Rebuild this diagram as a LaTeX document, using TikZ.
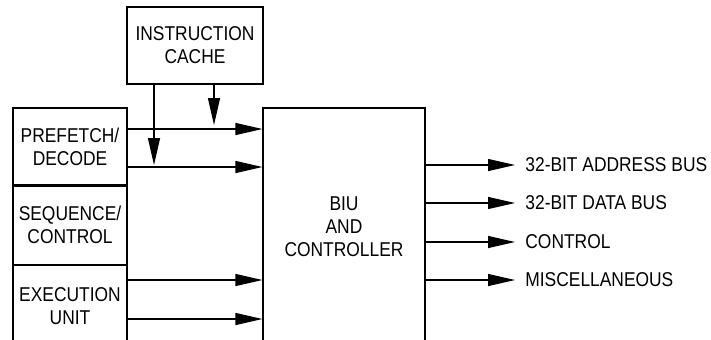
\documentclass[tikz,border=0pt]{standalone}
\usepackage{fontspec}
\setmainfont{Liberation Sans}[FakeStretch=0.87]
\usetikzlibrary{arrows.meta,positioning}

\begin{document}
\begin{tikzpicture}[
    x=0.5pt, y=-0.5pt,
    blk/.style={draw, line width=0.6pt, inner sep=0pt, align=center, font=\fontsize{10}{11.5}\selectfont},
    arrow/.style={-{Triangle[length=13.5pt, width=6pt]}, line width=0.6pt},
    label/.style={anchor=west, inner sep=0pt, font=\fontsize{10}{11.5}\selectfont},
]
\clip (0,0) rectangle (711,339);

% ── Blocks ──
\node[blk, minimum width=68pt, minimum height=38.5pt] (cache) at (195,45.5) {INSTRUCTION\\CACHE};
\node[blk, minimum width=57pt, minimum height=38.5pt] (pre) at (70,146.5) {PREFETCH/\\DECODE};
\node[blk, minimum width=57pt, minimum height=39pt, below=0pt of pre] (seq) {SEQUENCE/\\CONTROL};
\node[blk, minimum width=57pt, minimum height=41pt, below=0pt of seq] (exec) {EXECUTION\\UNIT};
\node[blk, minimum width=81pt, minimum height=118.5pt] (biu) at (344,226.5) {BIU\\AND\\CONTROLLER};

% ── Outputs ──
\node[label] (addr) at (525,165) {32-BIT ADDRESS BUS};
\node[label] (data) at (525,203) {32-BIT DATA BUS};
\node[label] (ctrl) at (525,242) {CONTROL};
\node[label] (misc) at (525,280) {MISCELLANEOUS};

% ── Arrow ends ──
\coordinate (c1) at (214,125);
\coordinate (c2) at (154,165);

% ── Arrows ──
\draw[arrow] (pre.east |- 0,129) -- (biu.west |- 0,129);
\draw[arrow] (pre.east |- 0,167) -- (biu.west |- 0,167);
\draw[arrow] (cache.south -| c1) -- (c1);
\draw[arrow] (cache.south -| c2) -- (c2);
\draw[arrow] (exec.east |- 0,280) -- (biu.west |- 0,280);
\draw[arrow] (exec.east |- 0,319) -- (biu.west |- 0,319);
\foreach \o in {addr,data,ctrl,misc}
    \draw[arrow] (biu.east |- \o.west) -- ([xshift=-5pt]\o.west);

\end{tikzpicture}
\end{document}
